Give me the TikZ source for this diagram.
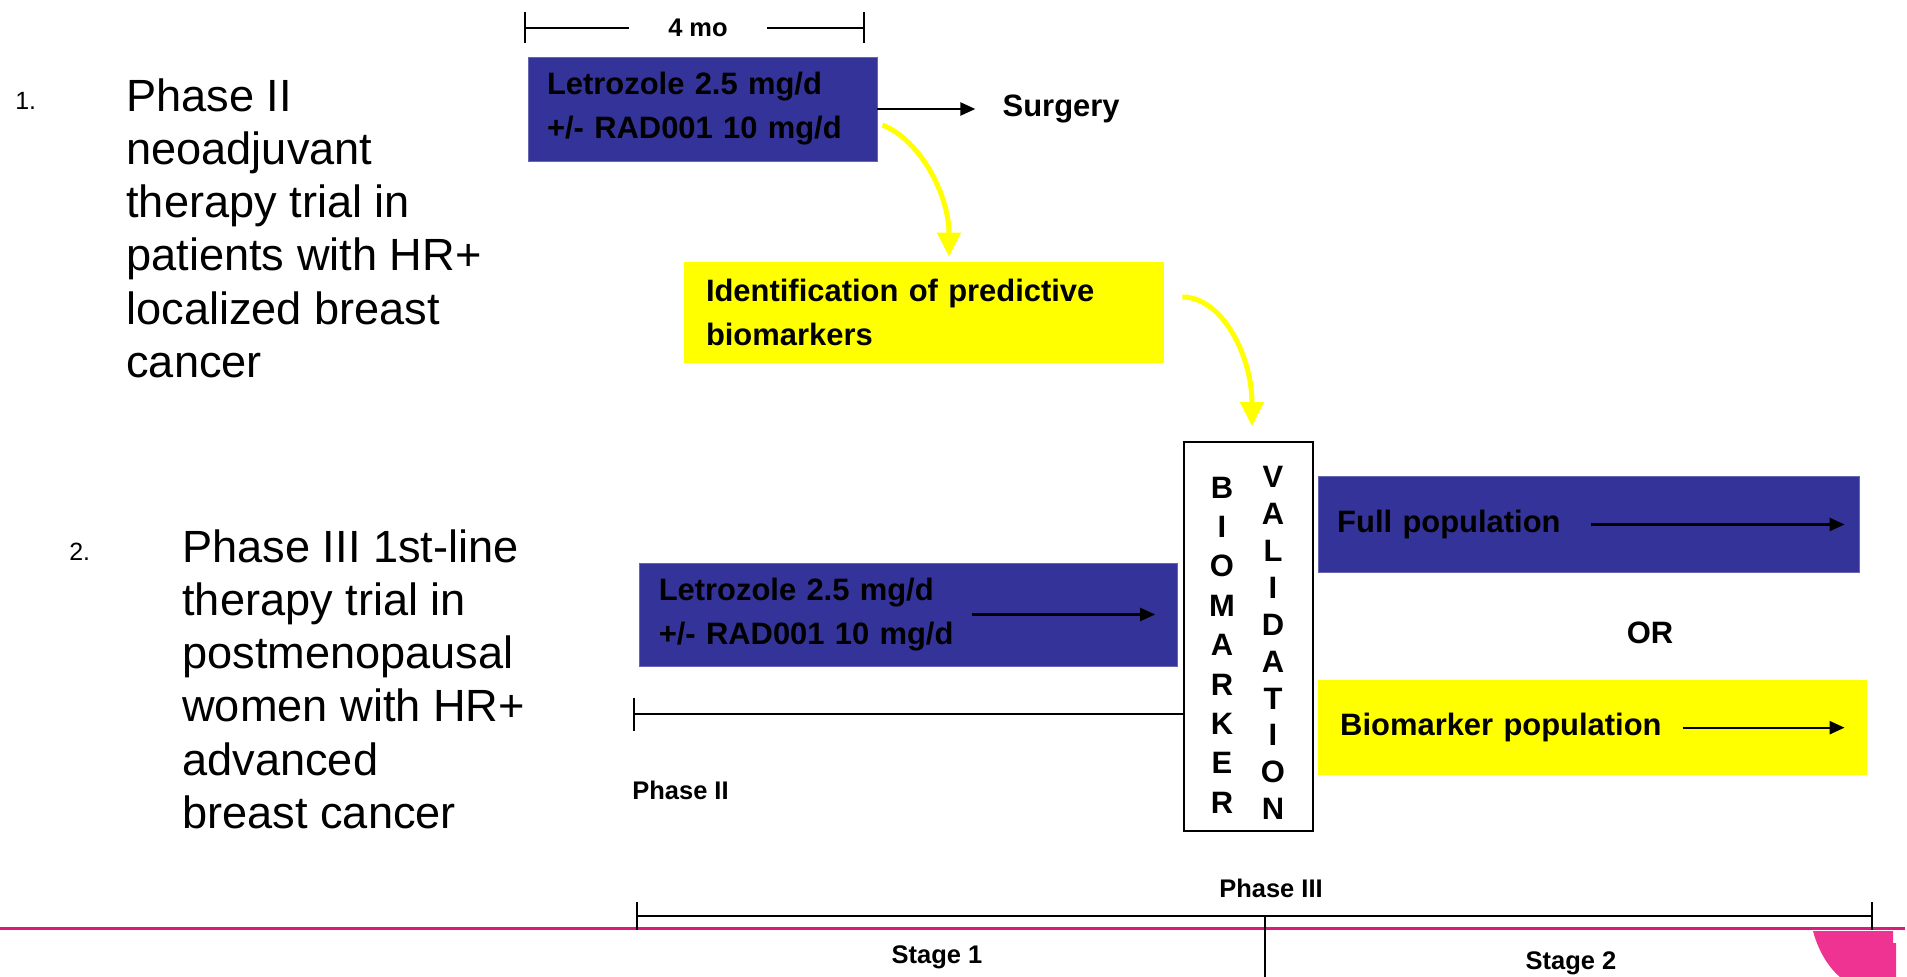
\documentclass[tikz,border=0pt]{standalone}
\usepackage{fontspec}
\setmainfont{Liberation Sans}
\usetikzlibrary{arrows.meta,positioning}
\definecolor{azul}{HTML}{333399}
\definecolor{amar}{HTML}{FFFF00}
\definecolor{rosa}{HTML}{DC1A7E}
\definecolor{rosaclaro}{HTML}{EE3392}
\newcommand{\boxfont}{\fontsize{17.6}{25}\selectfont\bfseries}
\newcommand{\smallfont}{\fontsize{14.5}{17}\selectfont\bfseries}
\newcommand{\listfont}{\fontsize{25.7}{30.3}\selectfont}
\newcommand{\numfont}{\fontsize{14.2}{17}\selectfont}

\begin{document}
\begin{tikzpicture}[x=0.2mm,y=-0.2mm,
          bluebox/.style={fill=azul,draw=azul!75!white,align=left,inner xsep=3.8mm,font=\boxfont},
          yelbox/.style={fill=amar,align=left,inner xsep=4.4mm,font=\boxfont},
          lbl/.style={inner sep=0pt,font=\smallfont},
          listtxt/.style={inner sep=0pt,align=left,anchor=north west,font=\listfont},
          numtxt/.style={inner sep=0pt,anchor=base west,font=\numfont},
          letras/.style={inner sep=0pt,align=center,font=\fontsize{17.6}{22.4}\selectfont\bfseries},
          tramo/.style={line width=1.6pt},
          flecha/.style={line width=1.3pt,-{Triangle[length=3mm,width=2.6mm]}},
          curva/.style={amar,line width=1mm,-{Triangle[length=4.8mm,width=4.6mm]}}]
        \useasboundingbox (0,0) rectangle (1907,977);
        % left column
        \node[numtxt] (n1) at (15,110) {1.};
        \node[listtxt] (list1) at (126,78) {Phase II\\neoadjuvant\\therapy trial in\\patients with HR+\\localized breast\\cancer};
        \node[numtxt] (n2) at (69,560) {2.};
        \node[listtxt] (list2) at (182,529) {Phase III 1st-line\\therapy trial in\\postmenopausal\\women with HR+\\advanced\\breast cancer};
        % trial 1
        \coordinate (b4l) at (525,28);
        \coordinate (b4r) at (864,28);
        \node[lbl,minimum width=27.6mm] (fourmo) at (698,28) {4 mo};
        \draw[tramo] (b4l) -- (fourmo.west);
        \draw[tramo] (fourmo.east) -- (b4r);
        \draw[tramo] ([yshift=3.1mm]b4l) -- ([yshift=-3.1mm]b4l);
        \draw[tramo] ([yshift=3.1mm]b4r) -- ([yshift=-3.1mm]b4r);
        \node[bluebox,text width=62.2mm,minimum height=20.8mm] (let1) at (702.5,109) {Letrozole 2.5 mg/d\\+/- RAD001 10 mg/d};
        \node[lbl,font=\boxfont,right=25mm of let1] (surgery) {Surgery};
        \draw[flecha,shorten >=5.4mm] (let1.east) -- (let1.east -| surgery.west);
        \node[yelbox,text width=87.2mm,minimum height=20.2mm] (idbio) at (924,312.5) {Identification of predictive\\biomarkers};
        \draw[curva,shorten >=1mm] ([xshift=1mm,yshift=-3.2mm]let1.east) .. controls +(38,15) and +(0,-67) .. ([xshift=5mm]idbio.north);
        % trial 2
        \node[draw,line width=1pt,minimum width=25.8mm,minimum height=77.8mm] (valbox) at (1248.5,636.5) {};
        \node[letras] (bio) at ([xshift=-5.3mm,yshift=-1.7mm]valbox.center) {B\\I\\O\\M\\A\\R\\K\\E\\R};
        \node[letras,font=\fontsize{17.6}{21}\selectfont\bfseries] (vali) at ([xshift=4.9mm,yshift=-1.3mm]valbox.center) {V\\A\\L\\I\\D\\A\\T\\I\\O\\N};
        \draw[curva,shorten >=3mm] ([xshift=3.6mm,yshift=3.1mm]idbio.east) .. controls +(40,0) and +(0,-85) .. ([xshift=0.7mm]valbox.north);
        \node[bluebox,text width=100mm,minimum height=20.6mm,left=1mm of valbox,yshift=4.4mm] (let2) {Letrozole 2.5 mg/d\\+/- RAD001 10 mg/d};
        \draw[flecha] ([xshift=-41.2mm]let2.east) -- ([xshift=-4.6mm]let2.east);
        \coordinate (p2) at (634,714);
        \draw[tramo] (p2) -- (p2 -| valbox.west);
        \draw[tramo] ([yshift=3.3mm]p2) -- ([yshift=-3.3mm]p2);
        \node[lbl,anchor=west] (phaseii) at (632,790) {Phase II};
        \node[bluebox,text width=100.6mm,minimum height=19.2mm,below right=7mm and 0.8mm of valbox.north east] (fullpop) {Full population};
        \draw[flecha] ([xshift=-53.8mm]fullpop.east) -- ([xshift=-3mm]fullpop.east);
        \node[lbl,font=\boxfont] (or) at (1650,633) {OR};
        \node[yelbox,text width=101mm,minimum height=19mm,below right=21.4mm and 0mm of fullpop.south west] (biopop) {Biomarker population};
        \draw[flecha] ([xshift=-37mm]biopop.east) -- ([xshift=-4.6mm]biopop.east);
        % bottom scale
        \draw[rosa,line width=1.7pt] (0,928) -- (1905,928);
        \fill[rosaclaro] (1813,931) .. controls (1818,950) and (1828,967) .. (1840,977) -- (1896,977) -- (1896,943) -- (1893,943) -- (1893,931) -- cycle;
        \coordinate (p3l) at (637,916);
        \coordinate (p3r) at (1872,916);
        \draw[tramo] (p3l) -- (p3r);
        \draw[tramo] ([yshift=2.8mm]p3l) -- ([yshift=-2.8mm]p3l);
        \draw[tramo] ([yshift=2.8mm]p3r) -- ([yshift=-2.8mm]p3r);
        \node[lbl] (phaseiii) at (1271,888) {Phase III};
        \coordinate (s12) at (1265,916);
        \draw[line width=0.8pt] (s12) -- ++(0,61);
        \node[lbl] (stage1) at (937,957) {Stage 1};
        \node[lbl] (stage2) at (1571,963) {Stage 2};
      \end{tikzpicture}
\end{document}
